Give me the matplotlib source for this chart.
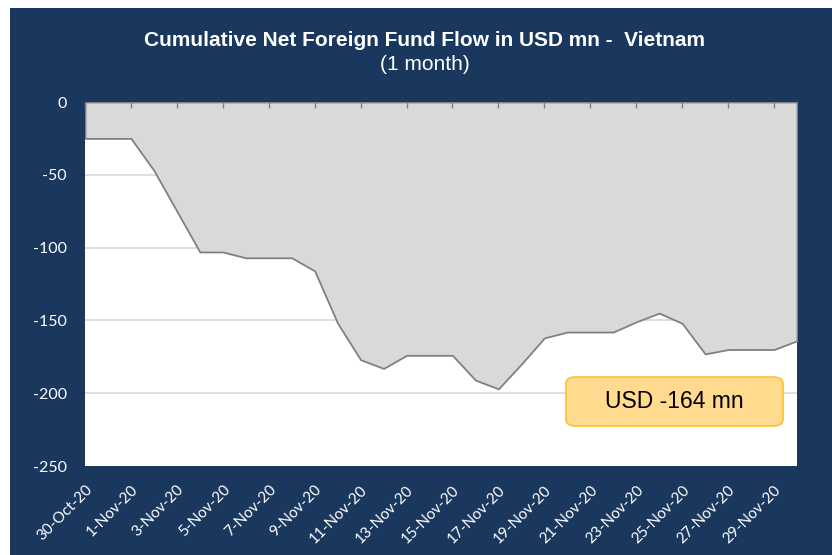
import matplotlib
matplotlib.use("Agg")
import matplotlib.pyplot as plt
import numpy as np
import pandas as pd
from matplotlib.patches import Rectangle, FancyBboxPatch

# ---- data ----
dates = pd.date_range("2020-10-30", "2020-11-30", freq="D")
values = [-25, -25, -25, -47, -75, -103, -103, -107, -107, -107,
          -116, -152, -177, -183, -174, -174, -174, -191, -197, -180,
          -162, -158, -158, -158, -151, -145, -152, -173, -170, -170,
          -170, -164]
tick_dates = pd.date_range("2020-10-30", "2020-11-29", freq="2D")
tick_labels = [f"{d.day}-{d.strftime('%b')}-20" for d in tick_dates]
y_ticks = [0, -50, -100, -150, -200, -250]
title = "Cumulative Net Foreign Fund Flow in USD mn -  Vietnam"
subtitle = "(1 month)"
box_text = "USD -164 mn"

NAVY = "#1A375E"
W, H = 832, 555
fig = plt.figure(figsize=(W / 100, H / 100), dpi=100, facecolor="white")

# navy panel
fig.patches.append(Rectangle((10 / W, 0), 1 - 10 / W, 547 / H, transform=fig.transFigure,
                             facecolor=NAVY, edgecolor="none", zorder=-5))

ax = fig.add_axes([85 / W, 89 / H, 712 / W, 364 / H])
ax.set_zorder(2)
ax.set_facecolor("white")
x = np.arange(len(dates))
ax.fill_between(x, values, 0, facecolor="#D9D9D9", edgecolor="#808080", linewidth=1.3, zorder=2)
ax.set_xlim(0, len(dates) - 1)
ax.set_ylim(-250, 0)

for yv in y_ticks[1:-1]:
    ax.axhline(yv, color="#D9D9D9", lw=1.2, zorder=1)

for s in ax.spines.values():
    s.set_visible(False)

tick_pos = [int((d - dates[0]).days) for d in tick_dates]
ax.set_xticks(tick_pos)
ax.set_xticklabels(tick_labels, rotation=45, ha="right", va="top", rotation_mode="anchor",
                   color="white", fontsize=11, family="Lato")
ax.tick_params(axis="x", bottom=False, top=True, labelbottom=True, labeltop=False,
               direction="in", length=4, width=1, color="#808080", pad=12)
ax.set_yticks(y_ticks)
ax.set_yticklabels([str(v) for v in y_ticks], color="white", fontsize=11.5, family="Lato")
ax.tick_params(axis="y", length=0, pad=13)
ax.set_axisbelow(False)

fig.text(425 / W, 1 - 40 / H, title, ha="center", va="center", color="white",
         fontsize=15, fontweight="bold", family="Liberation Sans")
fig.text(425 / W, 1 - 64 / H, subtitle, ha="center", va="center", color="white",
         fontsize=15, family="Liberation Sans")

# annotation box
bx0, by0, bx1, by1 = 566, 377, 783, 426
fig.patches.append(FancyBboxPatch((bx0 / W, 1 - by1 / H), (bx1 - bx0) / W, (by1 - by0) / H,
                                  boxstyle="round,pad=0,rounding_size=0.012",
                                  transform=fig.transFigure, facecolor="#FFDA8F",
                                  edgecolor="#F7C331", linewidth=1.2, zorder=10))
fig.text((bx0 + bx1) / 2 / W, 1 - (by0 + by1) / 2 / H, box_text, ha="center", va="center",
         fontsize=16.5, color="black", family="Liberation Sans", zorder=11)

fig.savefig("out.png", dpi=100, facecolor="white")
